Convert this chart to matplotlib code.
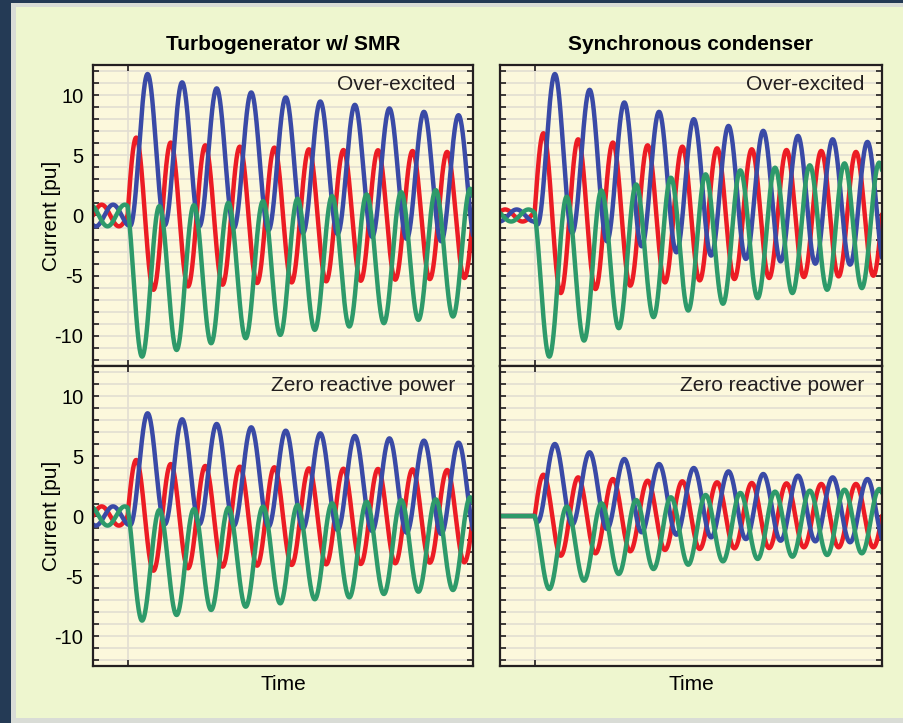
import numpy as np
import matplotlib.pyplot as plt
from matplotlib.patches import Rectangle

plt.rcParams['font.family'] = ['Liberation Sans', 'DejaVu Sans']

# time in cycles, fault at t = 0
t_red, t_blue, t_green = 0.25, 0.58, 0.92      # times of the first post-fault peaks

# pre-fault load current: amplitude and phase shift (cycles) per panel
pre_amp = {'tl': 0.9, 'tr': 0.5, 'bl': 0.8, 'br': 0.0}
pre_shift = {'tl': 0.0, 'tr': -0.1, 'bl': 0.0, 'br': 0.0}

# Turbogenerator w/ SMR, over-excited
tl_red_hi = [6.47, 6.06, 5.83, 5.72, 5.64, 5.50, 5.44, 5.42, 5.36, 5.28, 5.20]
tl_red_lo = [-6.17, -5.89, -5.75, -5.61, -5.56, -5.47, -5.42, -5.33, -5.28, -5.19]
tl_blue_hi = [11.75, 11.06, 10.56, 10.22, 9.81, 9.47, 9.19, 8.89, 8.61, 8.33]
tl_blue_lo = [-0.85, -0.80, -0.90, -1.03, -1.22, -1.44, -1.53, -1.78, -1.94, -2.14, -2.30]
tl_green_hi = [0.78, 0.86, 1.06, 1.19, 1.39, 1.61, 1.75, 1.94, 2.11, 2.22]
tl_green_lo = [-11.72, -11.17, -10.61, -10.19, -9.92, -9.50, -9.22, -8.94, -8.67, -8.39, -8.10]

# Synchronous condenser, over-excited
tr_red_hi = [6.83, 6.33, 6.06, 5.83, 5.72, 5.58, 5.50, 5.44, 5.36, 5.28, 5.20]
tr_red_lo = [-6.44, -6.11, -5.83, -5.56, -5.39, -5.28, -5.19, -5.11, -5.06, -5.00]
tr_blue_hi = [11.75, 10.44, 9.39, 8.61, 8.00, 7.44, 7.03, 6.61, 6.33, 6.11]
tr_blue_lo = [-0.75, -1.44, -2.14, -2.56, -3.06, -3.33, -3.61, -3.81, -4.00, -4.08, -4.15]
tr_green_hi = [1.56, 2.08, 2.58, 3.14, 3.42, 3.75, 3.97, 4.17, 4.33, 4.39]
tr_green_lo = [-11.72, -10.39, -9.36, -8.44, -7.89, -7.33, -6.86, -6.44, -6.17, -6.03, -5.90]

# Turbogenerator w/ SMR, zero reactive power
bl_red_hi = [4.67, 4.33, 4.17, 4.11, 4.06, 3.97, 3.94, 3.92, 3.89, 3.83, 3.80]
bl_red_lo = [-4.56, -4.36, -4.22, -4.14, -4.08, -4.03, -4.00, -3.94, -3.89, -3.86]
bl_blue_hi = [8.56, 8.06, 7.67, 7.39, 7.11, 6.89, 6.67, 6.47, 6.28, 6.11]
bl_blue_lo = [-0.75, -0.69, -0.69, -0.80, -0.89, -1.03, -1.17, -1.25, -1.39, -1.50, -1.60]
bl_green_hi = [0.50, 0.58, 0.69, 0.78, 0.92, 1.06, 1.19, 1.33, 1.39, 1.56]
bl_green_lo = [-8.72, -8.25, -7.83, -7.56, -7.28, -6.94, -6.78, -6.50, -6.31, -6.17, -6.00]

# Synchronous condenser, zero reactive power
br_red_hi = [3.44, 3.22, 3.08, 2.94, 2.89, 2.81, 2.75, 2.72, 2.67, 2.67, 2.65]
br_red_lo = [-3.31, -3.11, -2.94, -2.83, -2.75, -2.69, -2.67, -2.61, -2.61, -2.61]
br_blue_hi = [6.00, 5.31, 4.75, 4.33, 4.00, 3.72, 3.50, 3.36, 3.22, 3.08]
br_blue_lo = [-0.50, -0.72, -1.08, -1.36, -1.56, -1.78, -1.92, -2.06, -2.11, -2.19, -2.25]
br_green_hi = [0.78, 1.06, 1.33, 1.56, 1.75, 1.92, 2.03, 2.11, 2.19, 2.25]
br_green_lo = [-6.08, -5.39, -4.83, -4.42, -4.06, -3.78, -3.58, -3.39, -3.25, -3.11, -3.00]

titles = ['Turbogenerator w/ SMR', 'Synchronous condenser']
cases = ['Over-excited', 'Zero reactive power']

colors = {'red': '#ec1c24', 'blue': '#3a4aa6', 'green': '#2e9a6a'}


def cosine_path(tk, vk, t):
    # smooth half-cosine between consecutive extrema
    i = np.clip(np.searchsorted(tk, t) - 1, 0, len(tk) - 2)
    s = (t - tk[i]) / (tk[i + 1] - tk[i])
    return vk[i] + (vk[i + 1] - vk[i]) * (1 - np.cos(np.pi * s)) / 2


def phase_curve(t, t_peak, hi, lo, amp, shift):
    # pre-fault steady state
    tp = np.arange(-3, 2) + t_peak + shift
    tk_pre = np.sort(np.concatenate([tp, tp + 0.5]))
    vk_pre = np.where(np.isin(tk_pre, tp), amp, -amp)
    pre = cosine_path(tk_pre, vk_pre, t)
    v0 = cosine_path(tk_pre, vk_pre, np.array([0.0]))[0]

    # post-fault extrema
    th = t_peak + np.arange(len(hi))
    lo0 = t_peak - 0.5 if t_peak >= 0.5 else t_peak + 0.5
    tl = lo0 + np.arange(len(lo))
    tk = np.concatenate([th, tl])
    vk = np.concatenate([hi, lo])
    order = np.argsort(tk)
    tk, vk = tk[order], vk[order]
    # virtual extremum before the first one so that the current is continuous at t = 0
    tv = tk[0] - 0.5
    f = (1 - np.cos(np.pi * (0 - tv) / 0.5)) / 2
    vv = (v0 - f * vk[0]) / (1 - f)
    tk = np.concatenate([[tv], tk])
    vk = np.concatenate([[vv], vk])
    post = cosine_path(tk, vk, t)
    return np.where(t < 0, pre, post)


data = {
    'tl': [(t_red, tl_red_hi, tl_red_lo), (t_blue, tl_blue_hi, tl_blue_lo), (t_green, tl_green_hi, tl_green_lo)],
    'tr': [(t_red, tr_red_hi, tr_red_lo), (t_blue, tr_blue_hi, tr_blue_lo), (t_green, tr_green_hi, tr_green_lo)],
    'bl': [(t_red, bl_red_hi, bl_red_lo), (t_blue, bl_blue_hi, bl_blue_lo), (t_green, bl_green_hi, bl_green_lo)],
    'br': [(t_red, br_red_hi, br_red_lo), (t_blue, br_blue_hi, br_blue_lo), (t_green, br_green_hi, br_green_lo)],
}

W, H = 904, 723
fig = plt.figure(figsize=(W / 100, H / 100), dpi=100, facecolor='#243a55')
fig.patches.append(Rectangle((11 / W, 0), 1, 1 - 3 / H, transform=fig.transFigure,
                             facecolor='#d9dcd6', edgecolor='none', zorder=-10))
fig.patches.append(Rectangle((16 / W, 5 / H), 1, 1 - 12 / H, transform=fig.transFigure,
                             facecolor='#eef6cf', edgecolor='none', zorder=-9))

col_x = [(93, 473), (500, 882)]
row_y = [(65, 366), (366, 666)]
t = np.linspace(-1, 10, 4000)

for r, key_row in enumerate(['t', 'b']):
    for c, key_col in enumerate(['l', 'r']):
        key = key_row + key_col
        x0, x1 = col_x[c]
        y0, y1 = row_y[r]
        ax = fig.add_axes([x0 / W, 1 - y1 / H, (x1 - x0) / W, (y1 - y0) / H])
        ax.set_facecolor('#fcf8dc')
        for y in range(-12, 13):
            ax.axhline(y, color='#e2ded2', lw=1.2, zorder=0)
        ax.axvline(0, color='#e2ded2', lw=1.2, zorder=0)

        for (tp, hi, lo), name in zip(data[key], ['red', 'blue', 'green']):
            i = phase_curve(t, tp, np.array(hi), np.array(lo), pre_amp[key], pre_shift[key])
            ax.plot(t, i, color=colors[name], lw=3.2, solid_capstyle='round', zorder=2)

        ax.set_xlim(-1, 10)
        ax.set_ylim(-12.5, 12.5)
        ax.set_xticks([0])
        ax.set_xticklabels([])
        ax.set_yticks(range(-12, 13))
        if c == 0:
            ax.set_yticklabels([str(v) if v % 5 == 0 else '' for v in range(-12, 13)], fontsize=14.5)
            ax.set_ylabel('Current [pu]', fontsize=15)
            ax.yaxis.set_label_coords(-0.083, 0.5)
        else:
            ax.set_yticklabels([])
        ax.tick_params(direction='in', length=4, width=1.2, color='#231f20',
                       left=True, right=True, top=True, bottom=True, pad=7)
        for sp in ax.spines.values():
            sp.set_color('#231f20')
            sp.set_linewidth(1.6)

        ax.text(0.953, 0.935, cases[r], transform=ax.transAxes, ha='right', va='center',
                fontsize=15, color='#231f20')
        if r == 0:
            ax.set_title(titles[c], fontsize=15, fontweight='bold', pad=11)
        else:
            ax.set_xlabel('Time', fontsize=15)
            ax.xaxis.set_label_coords(0.5, -0.03)

fig.savefig('out.png', dpi=100, facecolor=fig.get_facecolor())
